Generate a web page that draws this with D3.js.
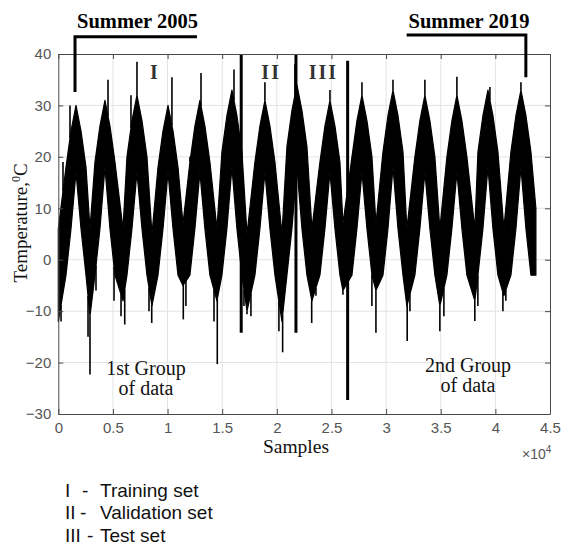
<!DOCTYPE html>
<html>
<head>
<meta charset="utf-8">
<script src="https://cdn.jsdelivr.net/npm/d3@7"></script>
<style>
  html, body { margin: 0; padding: 0; background: #fff; }
  svg { display: block; }
</style>
</head>
<body>
<div id="chart"></div>
<script>
// ---------------- data ----------------
// sample positions where the envelope of the temperature band was read
const envSamples = [0, 705, 1160, 1620, 2080, 2535, 2900,
  3355, 3810, 4270, 4730, 5185, 5920,
  6285, 6740, 7200, 7660, 8115, 8570,
  9125, 9580, 10040, 10500, 10955, 11410,
  12045, 12500, 12960, 13420, 13875, 14520,
  14975, 15430, 15890, 16350, 16805, 17270,
  17995, 18450, 18910, 19370, 19825, 20470,
  20925, 21380, 21840, 22300, 22755, 23210,
  23945, 24400, 24860, 25320, 25775, 26050,
  26875, 27330, 27790, 28250, 28705, 29070,
  29715, 30170, 30630, 31090, 31545, 31900,
  32635, 33090, 33550, 34010, 34465, 34920,
  35565, 36020, 36480, 36940, 37395, 38120,
  38405, 38860, 39320, 39780, 40235, 40780,
  41425, 41880, 42340, 42800, 43255, 43710];
// upper envelope (°C)
const envUpper = [6, 18, 25, 30, 25, 18, 6,
  19, 26, 31, 26, 19, 6,
  20, 27, 32, 27, 20, 5,
  18, 25, 30, 25, 18, 7,
  19, 26, 31, 26, 19, 6,
  21, 28, 33, 28, 21, 5,
  19, 26, 31, 26, 19, 5,
  22, 29, 34, 29, 22, 6,
  19, 26, 31, 26, 19, 7,
  20, 27, 32, 27, 20, 7,
  21, 28, 33, 28, 21, 6,
  20, 27, 32, 27, 20, 6,
  20, 27, 32, 27, 20, 6,
  21, 28, 33, 28, 21, 6,
  21, 28, 33, 28, 21, 10];
// lower envelope (°C)
const envLower = [-12, -3, 6, 17, 6, -3, -11,
  -3, 6, 18, 6, -3, -8,
  -3, 6, 17, 6, -3, -9,
  -3, 6, 17, 6, -3, -5,
  -3, 6, 17, 6, -3, -8,
  -3, 6, 18, 6, -3, -10,
  -3, 6, 17, 6, -3, -12,
  -3, 6, 18, 6, -3, -8,
  -3, 6, 17, 6, -3, -6,
  -3, 6, 17, 6, -3, -6,
  -3, 6, 18, 6, -3, -9,
  -3, 6, 17, 6, -3, -9,
  -3, 6, 17, 6, -3, -8,
  -3, 6, 18, 6, -3, -7,
  -3, 6, 18, 6, -3, -3];
// isolated extreme readings (spikes)
const spikeSamples = [430, 1070, 4550, 6650, 7200, 9500, 10400, 12050, 13060, 16080, 18910, 21660, 24860, 27790, 30630, 33550, 36480, 39500, 42340,
                      250, 2720, 2900, 3450, 5100, 5740, 6080, 8300, 8550, 11440, 11680, 14250, 14550, 16990, 17270, 17630, 20190, 20530,
                      23190, 23580, 26050, 28700, 29070, 31930, 32180, 34920, 35290, 38120, 38400, 40690, 40960];
const spikeValues  = [19, 30, 35, 32, 38.5, 23, 35.5, 20, 36.3, 37, 34.5, 38, 33, 34.5, 35, 35, 35.6, 33.6, 34.5,
                      -12, -15, -22.3, -6, -8, -11, -12.6, -10, -12.3, -11.6, -9, -12, -20.3, -9, -10.6, -11, -13.9, -18,
                      -12.3, -7, -6.8, -9, -14.2, -15.8, -10, -13.9, -11, -11.9, -9, -10, -8];
// data-set separators: sample, top value, bottom value
const sepSamples = [16740, 21750, 26480];
const sepTop     = [40, 40, 38.7];
const sepBottom  = [-14.2, -14.2, -27.3];
// summer brackets
const bracketLabels   = ["Summer 2005", "Summer 2019"];
const bracketTick     = [1530, 42790];   // sample where the bracket points
const bracketTickEnd  = [32.6, 35.5];    // value the pointer reaches
const bracketOther    = [12690, 31880];  // other end of horizontal bar (sample)
// set labels
const setLabels  = ["I", "II", "III"];
const setSamples = [8850, 19480, 24270];
// axis ticks
const xTicks = [0, 5000, 10000, 15000, 20000, 25000, 30000, 35000, 40000, 45000];
const xTickLabels = ["0", "0.5", "1", "1.5", "2", "2.5", "3", "3.5", "4", "4.5"];
const yTicks = [-30, -20, -10, 0, 10, 20, 30, 40];
const legendNumerals = ["I", "II", "III"];
const legendTexts = ["Training set", "Validation set", "Test set"];

// ---------------- layout ----------------
const W = 563, H = 544;
const L = 58.3, R = 550, T = 54, B = 414;
const serif = "'Liberation Serif', 'Times New Roman', serif";
const sans = "'Liberation Sans', Arial, sans-serif";

const svg = d3.select("#chart").append("svg").attr("width", W).attr("height", H);
const x = d3.scaleLinear().domain([0, 45000]).range([L, R]);
const y = d3.scaleLinear().domain([-30, 40]).range([B, T]);

// grid
const grid = svg.append("g");
grid.selectAll(".gx").data(xTicks.slice(1, -1)).enter().append("line")
  .attr("x1", d => x(d)).attr("x2", d => x(d)).attr("y1", T).attr("y2", B)
  .attr("stroke", "#e4e4e4").attr("stroke-width", 1);
grid.selectAll(".gy").data(yTicks.slice(1, -1)).enter().append("line")
  .attr("x1", L).attr("x2", R).attr("y1", d => y(d)).attr("y2", d => y(d))
  .attr("stroke", "#e4e4e4").attr("stroke-width", 1);

// data band
const env = envSamples.map((s, i) => ({s, hi: envUpper[i], lo: envLower[i]}));
const area = d3.area().x(d => x(d.s)).y0(d => y(d.lo)).y1(d => y(d.hi)).curve(d3.curveLinear);
svg.append("path").datum(env).attr("d", area).attr("fill", "#000")
  .attr("stroke", "#000").attr("stroke-width", 1.2).attr("stroke-linejoin", "round");

// spikes: from envelope to the extreme reading
const upI = d3.scaleLinear().domain(envSamples).range(envUpper);
const loI = d3.scaleLinear().domain(envSamples).range(envLower);
svg.append("g").selectAll("line").data(spikeSamples.map((s, i) => ({s, v: spikeValues[i]}))).enter().append("line")
  .attr("x1", d => x(d.s)).attr("x2", d => x(d.s))
  .attr("y1", d => y(d.v > 10 ? Math.min(upI(d.s), d.v) : Math.max(loI(d.s), d.v)))
  .attr("y2", d => y(d.v))
  .attr("stroke", "#000").attr("stroke-width", 1.6);

// separators
svg.append("g").selectAll("line").data(sepSamples).enter().append("line")
  .attr("x1", d => x(d)).attr("x2", d => x(d))
  .attr("y1", (d, i) => y(sepTop[i])).attr("y2", (d, i) => y(sepBottom[i]))
  .attr("stroke", "#000").attr("stroke-width", 3);

// axes box with ticks
const axCol = "#4a4a4a";
const xAxis = d3.axisBottom(x).tickValues(xTicks).tickFormat((d, i) => xTickLabels[i]).tickSizeInner(-5).tickSizeOuter(0).tickPadding(8);
const gx = svg.append("g").attr("transform", `translate(0,${B})`).call(xAxis);
gx.select(".domain").attr("stroke", axCol);
gx.selectAll(".tick line").attr("stroke", axCol);
gx.selectAll("text").attr("font-family", sans).attr("font-size", 15).attr("fill", "#555");

const yAxis = d3.axisLeft(y).tickValues(yTicks).tickSizeInner(-5).tickSizeOuter(0).tickPadding(7);
const gy = svg.append("g").attr("transform", `translate(${L},0)`).call(yAxis);
gy.select(".domain").attr("stroke", axCol);
gy.selectAll(".tick line").attr("stroke", axCol);
gy.selectAll("text").attr("font-family", sans).attr("font-size", 15).attr("fill", "#555");

const gt = svg.append("g").attr("transform", `translate(0,${T})`)
  .call(d3.axisTop(x).tickValues(xTicks).tickFormat("").tickSizeInner(-5).tickSizeOuter(0));
gt.select(".domain").attr("stroke", axCol); gt.selectAll(".tick line").attr("stroke", axCol);
const gr = svg.append("g").attr("transform", `translate(${R},0)`)
  .call(d3.axisRight(y).tickValues(yTicks).tickFormat("").tickSizeInner(-5).tickSizeOuter(0));
gr.select(".domain").attr("stroke", axCol); gr.selectAll(".tick line").attr("stroke", axCol);

// exponent
const ex = svg.append("text").attr("x", 522).attr("y", 459).attr("font-family", sans).attr("font-size", 14).attr("fill", "#555");
ex.append("tspan").text("×10");
ex.append("tspan").attr("dy", -6).attr("font-size", 10).text("4");

// axis titles
svg.append("text").attr("x", 296).attr("y", 453).attr("text-anchor", "middle")
  .attr("font-family", serif).attr("font-size", 19.5).attr("fill", "#111").text("Samples");
const yl = svg.append("text").attr("transform", "translate(27,223) rotate(-90)").attr("text-anchor", "middle")
  .attr("font-family", serif).attr("font-size", 19).attr("fill", "#111");
yl.append("tspan").text("Temperature,");
yl.append("tspan").attr("dy", -7).attr("font-size", 12).text("0");
yl.append("tspan").attr("dy", 7).text("C");

// summer brackets
const bracketBarY = [36.7, 35];
bracketLabels.forEach((lab, i) => {
  const xt = x(bracketTick[i]), xo = x(bracketOther[i]);
  svg.append("path")
    .attr("d", `M${xo},${bracketBarY[i]}H${xt}V${y(bracketTickEnd[i])}`)
    .attr("fill", "none").attr("stroke", "#000").attr("stroke-width", 3);
});
svg.append("text").attr("x", 137.5).attr("y", 28).attr("text-anchor", "middle")
  .attr("font-family", serif).attr("font-weight", "bold").attr("font-size", 20.5).attr("fill", "#000").text(bracketLabels[0]);
svg.append("text").attr("x", 469).attr("y", 28).attr("text-anchor", "middle")
  .attr("font-family", serif).attr("font-weight", "bold").attr("font-size", 20.5).attr("fill", "#000").text(bracketLabels[1]);

// set labels I II III
svg.append("g").selectAll("text").data(setLabels).enter().append("text")
  .attr("x", (d, i) => x(setSamples[i])).attr("y", 79).attr("text-anchor", "middle")
  .attr("font-family", serif).attr("font-weight", "bold").attr("font-size", 20).attr("fill", "#333")
  .attr("letter-spacing", 2).text(d => d);

// group labels
[["1st Group", "of data", 146, 375], ["2nd Group", "of data", 468, 372]].forEach(g => {
  const t = svg.append("text").attr("text-anchor", "middle").attr("font-family", serif).attr("font-size", 20).attr("fill", "#111");
  t.append("tspan").attr("x", g[2]).attr("y", g[3]).text(g[0]);
  t.append("tspan").attr("x", g[2]).attr("y", g[3] + 20).text(g[1]);
});

// legend
const legY = [497, 519, 541.5];
legendNumerals.forEach((n, i) => {
  svg.append("text").attr("x", 65).attr("y", legY[i]).attr("font-family", sans).attr("font-size", 19).attr("fill", "#111").text(n);
  svg.append("text").attr("x", [82, 80, 87][i]).attr("y", legY[i]).attr("font-family", sans).attr("font-size", 19).attr("fill", "#111").text("-");
  svg.append("text").attr("x", 100).attr("y", legY[i]).attr("font-family", sans).attr("font-size", 19).attr("fill", "#111").text(legendTexts[i]);
});
</script>
</body>
</html>
